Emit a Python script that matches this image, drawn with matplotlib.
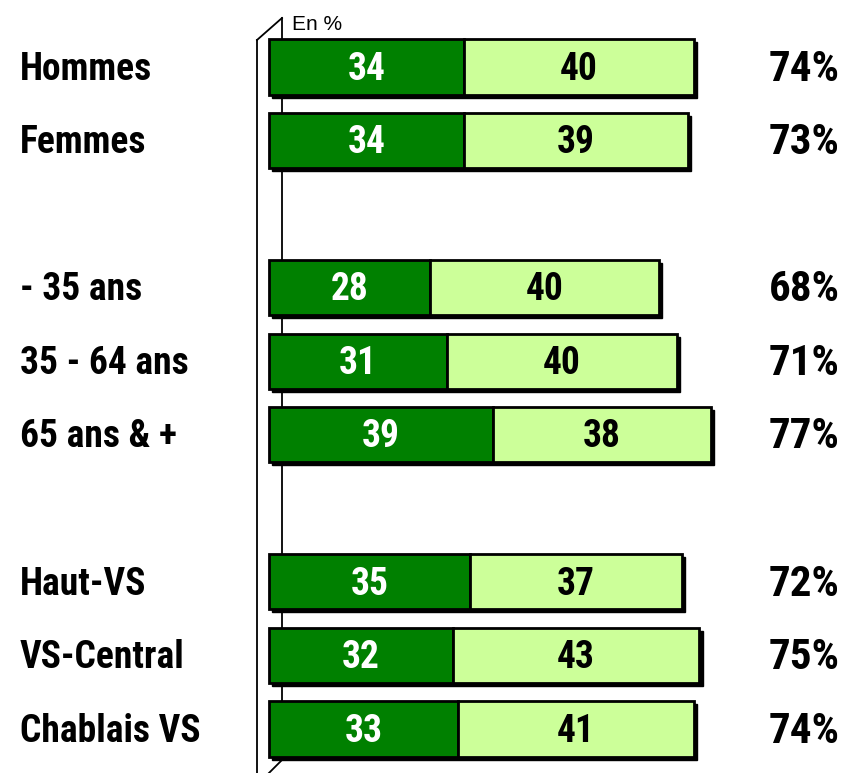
import numpy as np
import matplotlib.pyplot as plt
from matplotlib.patches import Rectangle

categories = ["Hommes", "Femmes", "- 35 ans", "35 - 64 ans", "65 ans & +",
              "Haut-VS", "VS-Central", "Chablais VS"]
positions = [0, 1, 3, 4, 5, 7, 8, 9]
dark_vals = [34, 34, 28, 31, 39, 35, 32, 33]
light_vals = [40, 39, 40, 40, 38, 37, 43, 41]
totals = ["74%", "73%", "68%", "71%", "77%", "72%", "75%", "74%"]

dark = "#008000"
light = "#CCFF99"
fam = ["Roboto Condensed", "PT Sans Narrow", "DejaVu Sans"]

fig = plt.figure(figsize=(8.48, 7.73), dpi=100)
ax = fig.add_axes([0, 0, 1, 1])
px = 5.74      # pixels per unit (x)
py = 73.56     # pixels per category step (y)
x0 = 269
ax.set_xlim(-x0 / px, (848 - x0) / px)
ax.set_ylim(9 + (773 - 729) / py, -67 / py)
ax.axis("off")

h = 0.75
dy = 0.03
sx, sy = 3 / px, 3 / py
for p, d, l in zip(positions, dark_vals, light_vals):
    # shadow
    ax.add_patch(Rectangle((sx, p - h / 2 + sy), d + l, h, color="black", zorder=2))
    ax.barh(p, d, height=h, color=dark, edgecolor="black", linewidth=2, zorder=3)
    ax.barh(p, l, left=d, height=h, color=light, edgecolor="black", linewidth=2, zorder=3)
    ax.text(d / 2, p + dy, str(d), color="white", ha="center", va="center",
            fontsize=27, fontweight="bold", family=fam, zorder=4)
    ax.text(d + l / 2, p + dy, str(l), color="black", ha="center", va="center",
            fontsize=27, fontweight="bold", family=fam, zorder=4)

for p, c, t in zip(positions, categories, totals):
    ax.text(-249 / px, p + dy, c, ha="left", va="center", fontsize=27,
            fontweight="bold", family=fam)
    ax.text((840 - x0) / px, p + dy, t, ha="right", va="center", fontsize=31,
            fontweight="bold", family=fam)

# 3D axis wall
def xd(v):
    return (v - x0) / px

def yd(v):
    return (v - 67) / py

wall = dict(color="black", linewidth=1.3, zorder=1, clip_on=False)
ax.plot([xd(257), xd(257)], [yd(40), yd(780)], **wall)
ax.plot([xd(257), xd(282)], [yd(40), yd(18)], **wall)
ax.plot([xd(282), xd(282)], [yd(18), yd(760)], **wall)
ax.plot([xd(282), xd(266)], [yd(760), yd(776)], **wall)

ax.text(xd(292), yd(25), "En %", ha="left", va="center", fontsize=15,
        family=["Liberation Sans", "DejaVu Sans"])

plt.savefig("out.png", dpi=100)
